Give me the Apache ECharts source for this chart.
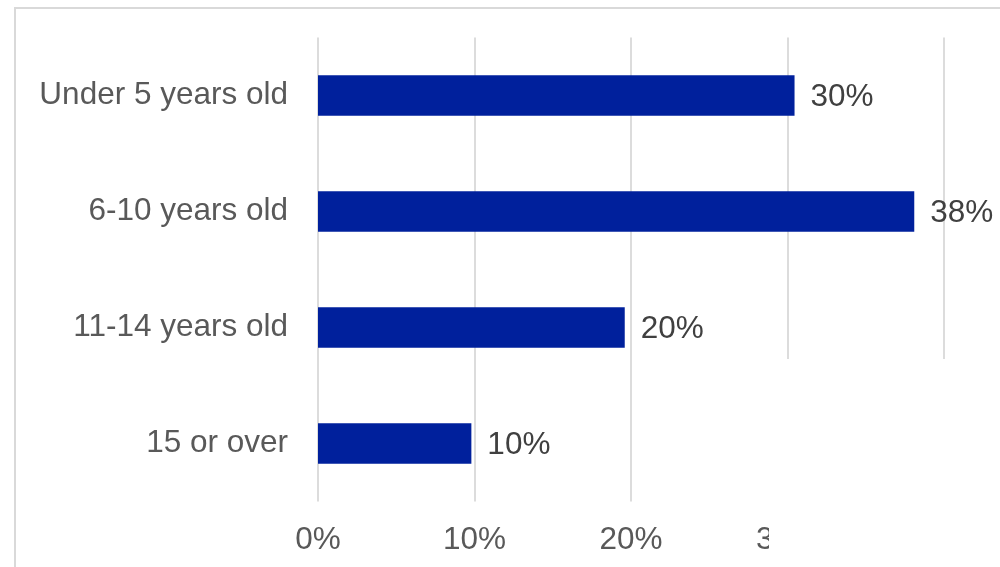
<!DOCTYPE html>
<html>
<head>
<meta charset="utf-8">
<script src="https://cdn.jsdelivr.net/npm/echarts@6/dist/echarts.min.js"></script>
<style>
html,body{margin:0;padding:0;background:#fff;}
#chart{width:1000px;height:567px;}
</style>
</head>
<body>
<div id="chart"></div>
<script>
const categories = ['Under 5 years old', '6-10 years old', '11-14 years old', '15 or over'];
const values = [30.45, 38.1, 19.6, 9.8];
const tickValues = [0, 10, 20, 30, 40];

const chart = echarts.init(document.getElementById('chart'), null, {renderer: 'canvas'});
const font = '"Liberation Sans", Arial, sans-serif';
chart.setOption({
  animation: false,
  backgroundColor: '#ffffff',
  grid: {left: 318, right: 56, top: 37.5, bottom: 65.5, containLabel: false},
  xAxis: {
    type: 'value', min: tickValues[0], max: tickValues[tickValues.length - 1], interval: 10,
    axisLine: {show: false}, axisTick: {show: false},
    splitLine: {show: true, lineStyle: {color: '#dcdcdc', width: 2}},
    axisLabel: {color: '#595959', fontSize: 31.5, fontFamily: font, margin: 23,
      formatter: v => v + '%'}
  },
  yAxis: {
    type: 'category', data: categories, inverse: true,
    axisLine: {show: false}, axisTick: {show: false},
    axisLabel: {color: '#595959', fontSize: 31.5, fontFamily: font, margin: 30,
      padding: [4, 0, 0, 0]}
  },
  series: [{
    type: 'bar', data: values, barWidth: '35%',
    itemStyle: {color: '#00209C'},
    label: {show: true, position: 'right', distance: 16, color: '#404040',
      fontSize: 31.5, fontFamily: font, offset: [0, 2],
      formatter: p => Math.round(p.value) + '%'}
  }],
  graphic: [
    {type: 'rect', z: 100, silent: true,
      shape: {x: 769, y: 359, width: 300, height: 300},
      style: {fill: '#ffffff'}},
    {type: 'rect', z: 101, silent: true,
      shape: {x: 15, y: 8, width: 1100, height: 700},
      style: {fill: 'none', stroke: '#d9d9d9', lineWidth: 2}}
  ]
});
</script>
</body>
</html>
